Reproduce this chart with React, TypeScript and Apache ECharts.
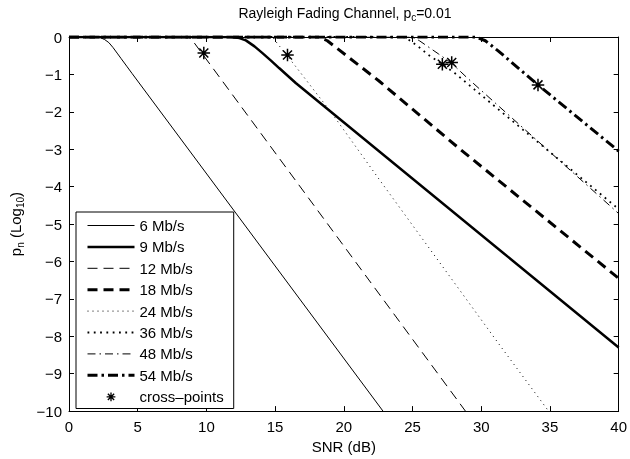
import React, { useEffect, useRef } from 'react';
import * as echarts from 'echarts';

const FONT = '"Liberation Sans", Arial, Helvetica, sans-serif';

const seriesNames = ['6 Mb/s', '9 Mb/s', '12 Mb/s', '18 Mb/s', '24 Mb/s', '36 Mb/s', '48 Mb/s', '54 Mb/s'];
const crossName = 'cross–points';

// [SNR (dB), log10(p_n)]
const pn6: [number, number][] = [[0, 0], [2.0, 0], [2.3, -0.02], [2.6, -0.07], [2.9, -0.15], [3.2, -0.28], [3.5, -0.43], [3.8, -0.58], [4.2, -0.78], [4.6, -0.98], [22.85, -10]];
const pn9: [number, number][] = [[0, 0], [11.8, 0], [12.4, -0.03], [12.87, -0.09], [13.5, -0.25], [14.08, -0.43], [14.7, -0.63], [15.29, -0.83], [16.5, -1.23], [40, -8.3]];
const pn12: [number, number][] = [[0, 0], [8.7, 0], [9.1, -0.15], [28.85, -10]];
const pn18: [number, number][] = [[0, 0], [18.2, 0], [18.8, -0.1], [22.54, -1.17], [28.4, -2.98], [40, -6.45]];
const pn24: [number, number][] = [[0, 0], [14.8, 0], [15.05, -0.12], [16.5, -0.79], [19.15, -2.05], [22.66, -3.85], [27.49, -6.29], [31.35, -8.24], [34.9, -10]];
const pn36: [number, number][] = [[0, 0], [24.3, 0], [24.6, -0.04], [25.43, -0.26], [26.16, -0.48], [27.17, -0.73], [28.09, -0.97], [29.66, -1.45], [40, -4.6]];
const pn48: [number, number][] = [[0, 0], [25.0, 0], [25.5, -0.1], [26.88, -0.45], [27.85, -0.7], [28.94, -1.08], [40, -4.72]];
const pn54: [number, number][] = [[0, 0], [29.6, 0], [30.3, -0.1], [31.23, -0.37], [34.13, -1.28], [40, -3.05]];

const crossX = [9.81, 15.9, 27.17, 27.85, 34.13];
const crossY = [-0.43, -0.48, -0.73, -0.68, -1.28];

const xTicks = { min: 0, max: 40, interval: 5 };
const yTicks = { min: -10, max: 0, interval: 1 };

const lineData = [pn6, pn9, pn12, pn18, pn24, pn36, pn48, pn54];
const lineWidths = [1, 2.5, 1, 3, 1, 1.8, 1, 3];
const lineTypes: any[] = ['solid', 'solid', [10, 6], [10, 6], [1, 4], [1.8, 4.5], [8, 4, 1.5, 4], [10, 4, 2.5, 4]];

const ASTERISK = 'path://M0,-5L0,5M-5,0L5,0M-3.6,-3.6L3.6,3.6M-3.6,3.6L3.6,-3.6M-8,-8M8,8';
const CLEAR = 'rgba(0,0,0,0)';

export default function App() {
  const ref = useRef<HTMLDivElement>(null);
  useEffect(() => {
    const chart = echarts.init(ref.current!, null, { renderer: 'svg' });
    const series: any[] = lineData.map((d, i) => ({
      name: seriesNames[i],
      type: 'line',
      data: d,
      symbol: 'none',
      clip: true,
      itemStyle: { color: CLEAR, borderWidth: 0, opacity: 0 },
      lineStyle: { color: '#000', width: lineWidths[i], type: lineTypes[i], cap: 'butt', opacity: 1 },
      z: 2,
    }));
    series.push({
      name: crossName,
      type: 'scatter',
      data: crossX.map((x, i) => [x, crossY[i]]),
      symbol: ASTERISK,
      symbolSize: 20,
      symbolKeepAspect: true,
      itemStyle: { color: CLEAR, borderColor: '#000', borderWidth: 1.5, opacity: 1 },
      z: 3,
    });
    const axisCommon = {
      type: 'value',
      axisLine: { show: true, onZero: false, lineStyle: { color: '#000', width: 1 } },
      axisTick: { show: true, inside: true, length: 5, lineStyle: { color: '#000' } },
      splitLine: { show: false },
    };
    chart.setOption({
      animation: false,
      textStyle: { fontFamily: FONT },
      grid: { left: 69, right: 9, top: 37, bottom: 46, containLabel: false },
      graphic: [
        {
          type: 'text',
          x: 345,
          y: 13,
          style: {
            text: '{n|Rayleigh Fading Channel, p}{s|c}{n|=0.01}',
            align: 'center',
            verticalAlign: 'middle',
            fill: '#000',
            font: '14px ' + FONT,
            rich: {
              n: { fontSize: 14, lineHeight: 18, fontFamily: FONT, fill: '#000' },
              s: { fontSize: 10, verticalAlign: 'bottom', fontFamily: FONT, fill: '#000' },
            },
          },
        },
      ],
      xAxis: [
        {
          ...axisCommon,
          ...xTicks,
          position: 'bottom',
          axisLabel: { fontSize: 15, color: '#000', margin: 8, fontFamily: FONT },
          name: 'SNR (dB)',
          nameLocation: 'middle',
          nameGap: 27,
          nameTextStyle: { fontSize: 15, color: '#000', fontFamily: FONT },
        },
        {
          ...axisCommon,
          ...xTicks,
          position: 'top',
          axisLabel: { show: false },
        },
      ],
      yAxis: [
        {
          ...axisCommon,
          ...yTicks,
          position: 'left',
          axisLabel: {
            fontSize: 15,
            color: '#000',
            margin: 7,
            fontFamily: FONT,
            formatter: (v: number) => (v === 0 ? '0' : '\u2212' + Math.abs(v)),
          },
          name: '{n|p}{s|n}{n| (Log}{s|10}{n|)}',
          nameLocation: 'middle',
          nameRotate: 90,
          nameGap: 34,
          nameTextStyle: {
            color: '#000',
            fontSize: 15,
            fontFamily: FONT,
            rich: {
              n: { fontSize: 15, lineHeight: 20, fontFamily: FONT, color: '#000' },
              s: { fontSize: 10, verticalAlign: 'bottom', fontFamily: FONT, color: '#000' },
            },
          },
        },
        {
          ...axisCommon,
          ...yTicks,
          position: 'right',
          axisLabel: { show: false },
        },
      ],
      legend: {
        orient: 'vertical',
        left: 76,
        top: 212,
        itemWidth: 47,
        itemHeight: 14,
        itemGap: 6.4,
        padding: [6, 10, 4, 10],
        borderColor: '#000',
        borderWidth: 1,
        backgroundColor: '#fff',
        itemStyle: { color: CLEAR, borderWidth: 0, opacity: 0 },
        lineStyle: { width: 'inherit', type: 'inherit', color: 'inherit', cap: 'butt' },
        textStyle: { fontSize: 15, color: '#000', fontFamily: FONT },
        data: [
          ...seriesNames,
          {
            name: crossName,
            itemStyle: { color: CLEAR, borderColor: '#000', borderWidth: 1.3, opacity: 1 },
          },
        ],
        z: 5,
      },
      series,
    });
    return () => chart.dispose();
  }, []);
  return <div ref={ref} style={{ position: 'fixed', left: 0, top: 0, width: 630, height: 459 }} />;
}
